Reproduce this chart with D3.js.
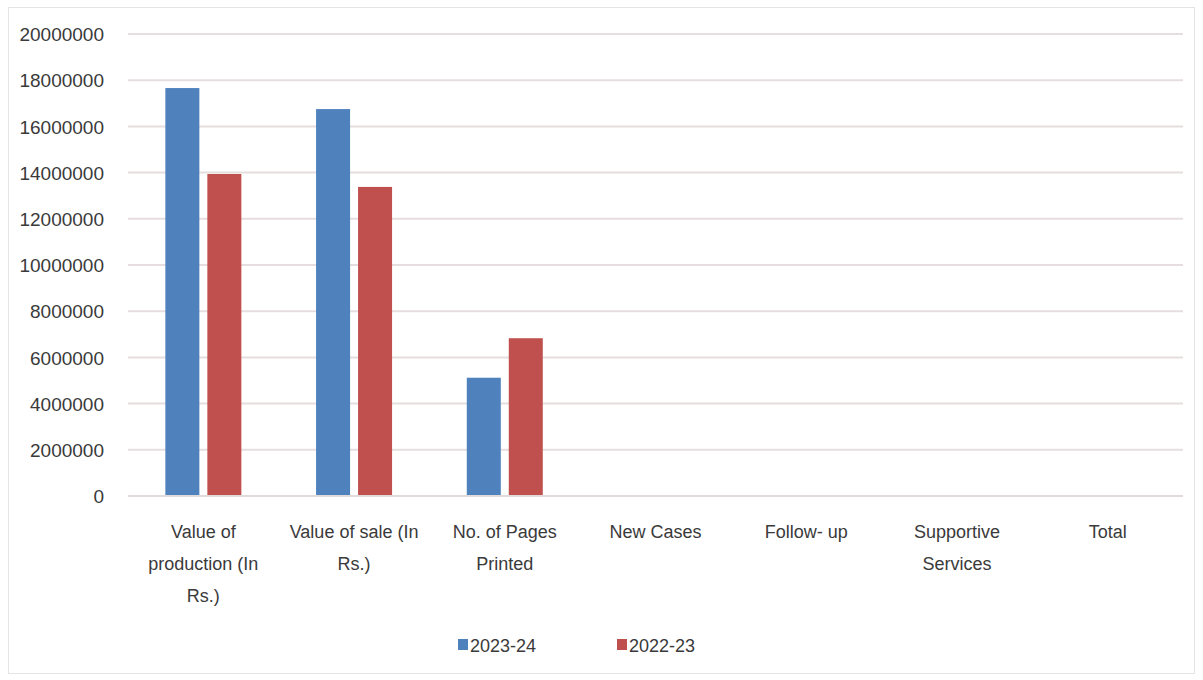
<!DOCTYPE html>
<html><head><meta charset="utf-8">
<script src="https://cdn.jsdelivr.net/npm/d3@7"></script>
<style>
html,body{margin:0;padding:0;background:#fff;}
svg{display:block;}
text{font-family:"Liberation Sans",Arial,sans-serif;fill:#3a3a3a;}
</style></head>
<body><svg id="c" width="1203" height="680"></svg>
<script>
const categories = ["Value of production (In Rs.)","Value of sale (In Rs.)","No. of Pages Printed","New Cases","Follow- up","Supportive Services","Total"];
const categoryLines = [["Value of","production (In","Rs.)"],["Value of sale (In","Rs.)"],["No. of Pages","Printed"],["New Cases"],["Follow- up"],["Supportive","Services"],["Total"]];
const seriesNames = ["2023-24","2022-23"];
const values2023 = [17660000,16750000,5120000,0,0,0,0];
const values2022 = [13940000,13380000,6830000,0,0,0,0];
const yTicks = [0,2000000,4000000,6000000,8000000,10000000,12000000,14000000,16000000,18000000,20000000];
const colors = ["#4F81BD","#C0504D"];

(function(){
const svg = d3.select("#c");
const pLeft = 128, pRight = 1183, pTop = 34, pBottom = 496;

svg.append("rect").attr("x",8.5).attr("y",7.5).attr("width",1186).attr("height",666)
  .attr("fill","#fff").attr("stroke","#e4e4e4");

const y = d3.scaleLinear().domain([0,20000000]).range([pBottom,pTop]);
const x0 = d3.scaleBand().domain(categories).range([pLeft,pRight]);
const x1 = d3.scaleBand().domain(seriesNames)
  .range([x0.bandwidth()/2-38, x0.bandwidth()/2+38]).paddingInner(0.19);

svg.append("g").selectAll("line").data(yTicks.filter(d=>d>0)).join("line")
  .attr("x1",pLeft).attr("x2",pRight).attr("y1",d=>y(d)).attr("y2",d=>y(d))
  .attr("stroke","#e6dede").attr("stroke-width",2);

const yAxis = d3.axisLeft(y).tickValues(yTicks).tickSize(0).tickPadding(0).tickFormat(d3.format("d"));
const yg = svg.append("g").attr("transform",`translate(${pLeft-24},0)`).call(yAxis);
yg.select(".domain").remove();
yg.selectAll("text").attr("font-size",19).attr("fill","#3a3a3a").attr("dy","0.35em")
  .style("font-family",'"Liberation Sans",Arial,sans-serif');

const data = categories.map((c,i)=>({c, vals:[values2023[i],values2022[i]]}));
const groups = svg.append("g").selectAll("g").data(data).join("g")
  .attr("transform",d=>`translate(${x0(d.c)},0)`);
groups.selectAll("rect").data(d=>d.vals.map((v,j)=>({s:seriesNames[j],v,j})).filter(e=>e.v>0)).join("rect")
  .attr("x",e=>x1(e.s)).attr("width",x1.bandwidth())
  .attr("y",e=>y(e.v)).attr("height",e=>y(0)-y(e.v))
  .attr("fill",e=>colors[e.j]);

svg.append("line").attr("x1",pLeft).attr("x2",pRight).attr("y1",y(0)).attr("y2",y(0))
  .attr("stroke","#e0dada").attr("stroke-width",2);

const xg = svg.append("g");
categories.forEach((c,i)=>{
  const t = xg.append("text").attr("x",x0(c)+x0.bandwidth()/2).attr("y",538)
    .attr("text-anchor","middle").attr("font-size",18);
  categoryLines[i].forEach((ln,k)=>{
    t.append("tspan").attr("x",x0(c)+x0.bandwidth()/2).attr("dy",k===0?0:32).text(ln);
  });
});

const legend = svg.append("g");
const legX = [458,617];
seriesNames.forEach((s,j)=>{
  legend.append("rect").attr("x",legX[j]).attr("y",639).attr("width",10).attr("height",11).attr("fill",colors[j]);
  legend.append("text").attr("x",legX[j]+12).attr("y",652).attr("font-size",18).text(s);
});
})();
</script></body></html>
